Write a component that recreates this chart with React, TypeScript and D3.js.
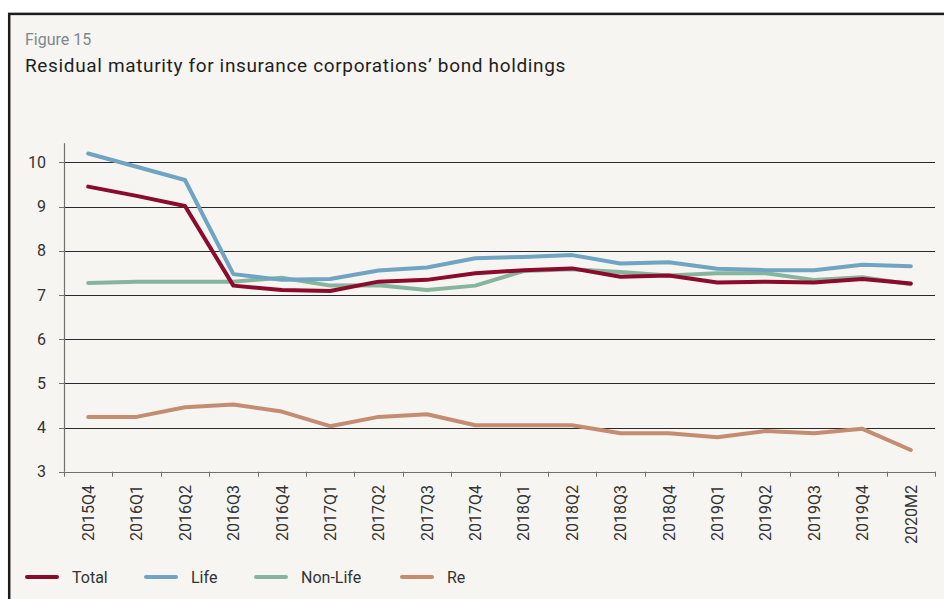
import React from "react";
import * as d3 from "d3";

const categories = [
  "2015Q4", "2016Q1", "2016Q2", "2016Q3", "2016Q4", "2017Q1", "2017Q2", "2017Q3", "2017Q4",
  "2018Q1", "2018Q2", "2018Q3", "2018Q4", "2019Q1", "2019Q2", "2019Q3", "2019Q4", "2020M2",
];
const totalValues = [9.45, 9.24, 9.01, 7.21, 7.11, 7.09, 7.30, 7.34, 7.49, 7.56, 7.60, 7.41, 7.44, 7.28, 7.30, 7.28, 7.36, 7.26];
const lifeValues = [10.2, 9.9, 9.6, 7.47, 7.34, 7.36, 7.55, 7.62, 7.83, 7.86, 7.90, 7.71, 7.74, 7.59, 7.56, 7.56, 7.68, 7.65];
const nonLifeValues = [7.27, 7.30, 7.30, 7.30, 7.39, 7.21, 7.22, 7.11, 7.21, 7.54, 7.58, 7.52, 7.44, 7.49, 7.49, 7.34, 7.40, 7.24];
const reValues = [4.24, 4.24, 4.46, 4.52, 4.36, 4.03, 4.24, 4.30, 4.05, 4.05, 4.05, 3.87, 3.87, 3.78, 3.92, 3.87, 3.97, 3.49];
const yTicks = [3, 4, 5, 6, 7, 8, 9, 10];

const seriesNames = ["Total", "Life", "Non-Life", "Re"];
const seriesColors = ["#8c0a2c", "#6fa4c3", "#86b59e", "#c48d72"];
const seriesValues = [totalValues, lifeValues, nonLifeValues, reValues];

const W = 944;
const H = 599;
const FONT = "Roboto, 'DejaVu Sans', sans-serif";

export default function App() {
  const x = d3.scaleBand<string>().domain(categories).range([64, 935]).padding(0);
  const y = d3.scaleLinear().domain([3, 10]).range([471.7, 162.3]);
  const cx = (c: string) => (x(c) as number) + x.bandwidth() / 2;
  const line = d3
    .line<number>()
    .x((_, i) => cx(categories[i]))
    .y((v) => y(v));

  const legendX = [25, 144, 254, 400];

  return (
    <svg
      width={W}
      height={H}
      style={{ position: "absolute", left: 0, top: 0, display: "block", background: "#ffffff" }}
      fontFamily={FONT}
    >
      <rect x={9.2} y={13.9} width={1000} height={1000} fill="#f6f5f1" stroke="#1c1c1c" strokeWidth={2.5} />
      <text x={25} y={45} fontSize={16} fill="#7f878f">Figure 15</text>
      <text x={25} y={72} fontSize={19} letterSpacing={0.65} fill="#1f1f1f">
        Residual maturity for insurance corporations’ bond holdings
      </text>

      {/* gridlines */}
      {yTicks.filter((t) => t > 3).map((t) => (
        <line key={t} x1={59} x2={935} y1={Math.round(y(t)) + 0.5} y2={Math.round(y(t)) + 0.5} stroke="#2a2a2a" strokeWidth={1} />
      ))}
      {/* y axis */}
      <line x1={64.5} x2={64.5} y1={y(10) - 19} y2={y(3)} stroke="#707070" strokeWidth={1.2} />
      <line x1={59} x2={935} y1={Math.round(y(3)) + 0.5} y2={Math.round(y(3)) + 0.5} stroke="#707070" strokeWidth={1.2} />
      {yTicks.map((t) => (
        <g key={"yl" + t}>
          <line x1={59} x2={64} y1={Math.round(y(t)) + 0.5} y2={Math.round(y(t)) + 0.5} stroke="#707070" />
          <text x={46} y={y(t)} dy="0.36em" textAnchor="end" fontSize={16} fill="#333">
            {t}
          </text>
        </g>
      ))}
      {/* x ticks */}
      {[...categories.map((c) => x(c) as number), 935].map((xv, i) => (
        <line key={"xt" + i} x1={Math.round(xv) + 0.5} x2={Math.round(xv) + 0.5} y1={y(3)} y2={y(3) + 5} stroke="#707070" />
      ))}
      {categories.map((c) => (
        <text
          key={"xl" + c}
          transform={`translate(${cx(c)},485) rotate(-90)`}
          textAnchor="end"
          dy="0.36em"
          fontSize={16}
          fill="#333"
        >
          {c}
        </text>
      ))}

      {/* lines, drawn Re first, then Non-Life, Life, Total */}
      {[3, 2, 1, 0].map((si) => (
        <path
          key={"s" + si}
          d={line(seriesValues[si]) || ""}
          fill="none"
          stroke={seriesColors[si]}
          strokeWidth={4}
          strokeLinejoin="round"
          strokeLinecap="round"
        />
      ))}

      {/* legend */}
      {seriesNames.map((n, i) => (
        <g key={"lg" + n}>
          <line x1={legendX[i] + 2} x2={legendX[i] + 32} y1={577} y2={577} stroke={seriesColors[i]} strokeWidth={4} strokeLinecap="round" />
          <text x={legendX[i] + 47} y={577} dy="0.36em" fontSize={16} fill="#333">
            {n}
          </text>
        </g>
      ))}
    </svg>
  );
}
